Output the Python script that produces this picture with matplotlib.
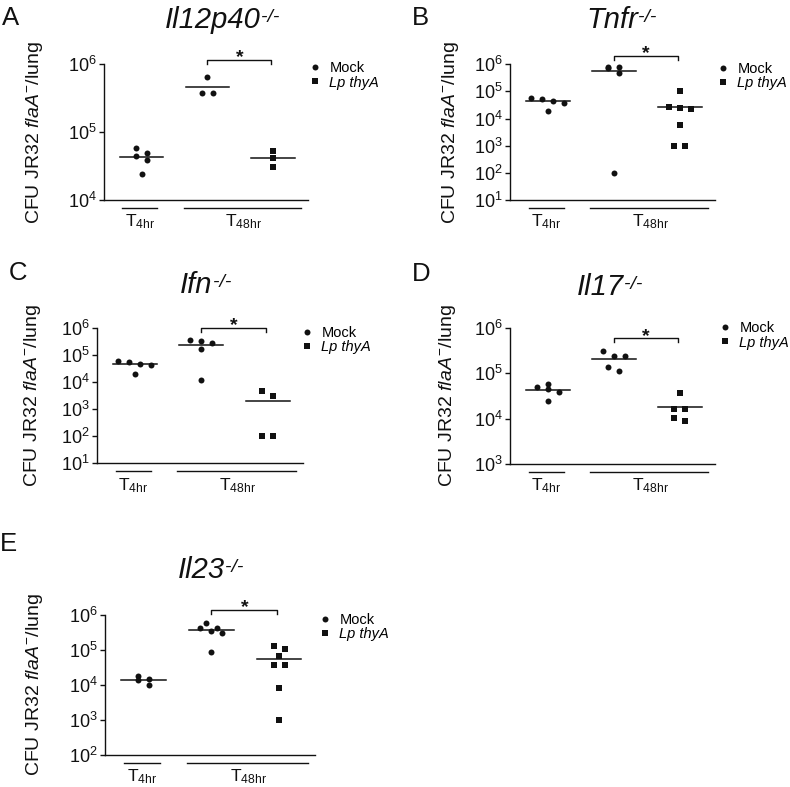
import numpy as np
import matplotlib
matplotlib.use('Agg')
import matplotlib.pyplot as plt
from matplotlib.lines import Line2D
from matplotlib.ticker import LogLocator, NullLocator

### Data: CFU JR32 flaA- per lung
a_mock_4hr = [5.9e4, 5.0e4, 4.45e4, 3.9e4, 2.4e4]
a_mock_48hr = [6.4e5, 3.8e5, 3.8e5]
a_thya_48hr = [5.2e4, 4.1e4, 3.1e4]

b_mock_4hr = [5.9e4, 5.3e4, 4.5e4, 3.9e4, 1.9e4]
b_mock_48hr = [8.2e5, 8.2e5, 7.1e5, 4.9e5, 1.0e2]
b_thya_48hr = [1.07e5, 2.6e4, 2.4e4, 2.2e4, 5.8e3, 1.0e3, 1.0e3]

c_mock_4hr = [5.97e4, 5.5e4, 4.6e4, 4.1e4, 2.0e4]
c_mock_48hr = [3.4e5, 3.24e5, 2.66e5, 1.65e5, 1.2e4]
c_thya_48hr = [4.8e3, 3.1e3, 1.0e2, 1.0e2]

d_mock_4hr = [5.9e4, 5.0e4, 4.4e4, 3.9e4, 2.45e4]
d_mock_48hr = [3.1e5, 2.4e5, 2.4e5, 1.38e5, 1.1e5]
d_thya_48hr = [3.7e4, 1.66e4, 1.66e4, 1.05e4, 8.7e3]

e_mock_4hr = [1.85e4, 1.45e4, 1.36e4, 9.8e3]
e_mock_48hr = [5.8e5, 4.33e5, 4.17e5, 3.5e5, 3.0e5, 8.6e4]
e_thya_48hr = [1.33e5, 1.07e5, 6.7e4, 3.73e4, 3.73e4, 8.0e3, 1.0e3]

letters = ['A', 'B', 'C', 'D', 'E']
genes = ['Il12p40', 'Tnfr', 'Ifn', 'Il17', 'Il23']
ylims = [(1e4, 1e6), (1e1, 1e6), (1e1, 1e6), (1e3, 1e6), (1e2, 1e6)]
legend_labels = ['Mock', 'Lp thyA']
time_labels = [r'$\mathregular{T_{4hr}}$', r'$\mathregular{T_{48hr}}$']
ylabel = r'CFU JR32 $\mathit{flaA}^{-}$/lung'

panel_data = [
    (a_mock_4hr, a_mock_48hr, a_thya_48hr),
    (b_mock_4hr, b_mock_48hr, b_thya_48hr),
    (c_mock_4hr, c_mock_48hr, c_thya_48hr),
    (d_mock_4hr, d_mock_48hr, d_thya_48hr),
    (e_mock_4hr, e_mock_48hr, e_thya_48hr),
]

### Layout (pixels in a 790x787 figure)
W, H = 790, 787
boxes = [(104, 64.3, 308, 200), (510, 64.3, 715, 200), (97, 327.7, 303, 463.3),
         (510, 327.7, 715, 464), (105, 615, 315, 755)]
letter_xy = [(2, 6), (412, 6), (9, 261), (412, 262), (0, 532)]
title_xy = [(165, 28), (586, 28), (180, 293), (577, 295), (178, 578)]
ylabel_x = [35, 450, 33, 447, 35]
legend_xy = [(315, 70), (723, 70.7), (307, 334.7), (725, 330), (325, 621.7)]
bracket_off = [4.3, 8.3, 0.0, -10.6, 5.0]

### Fonts
plt.rcParams['font.family'] = ['Liberation Sans', 'DejaVu Sans']
plt.rcParams['mathtext.fontset'] = 'custom'
plt.rcParams['mathtext.rm'] = 'Liberation Sans'
plt.rcParams['mathtext.it'] = 'Liberation Sans:italic'
plt.rcParams['mathtext.bf'] = 'Liberation Sans:bold'

ink = '#111111'
positions = [1, 2, 3]
markers = ['o', 'o', 's']
msizes = [4.3, 4.3, 3.8]


def swarm(ax, center, values, spacing=11.0, tol=5.2):
    """GraphPad-like column scatter: points close in y go into one centred row"""
    vals = np.sort(np.asarray(values, float))
    ypx = ax.transData.transform(np.column_stack([np.full(len(vals), center), vals]))[:, 1]
    rows, start = [], None
    for v, y in zip(vals, ypx):
        if start is None or y - start > tol:
            rows.append([])
            start = y
        rows[-1].append(v)
    px_unit = ax.transData.transform((1, 1))[0] - ax.transData.transform((0, 1))[0]
    xs, ys = [], []
    for row in rows:
        row = sorted(row, reverse=True)
        n = len(row)
        for i, v in enumerate(row):
            xs.append(center + (i - (n - 1) / 2.) * spacing / px_unit)
            ys.append(v)
    return np.array(xs), np.array(ys)


fig = plt.figure(figsize=(W / 100., H / 100.), dpi=100)

for k in range(5):
    l, t, r, b = boxes[k]
    ax = fig.add_axes([l / W, 1 - b / H, (r - l) / W, (b - t) / H])
    ax_h = b - t
    ax.set_yscale('log')
    ax.set_ylim(ylims[k])
    ax.set_xlim(0.43, 3.53)

    ### Scatter + mean lines
    for pos, vals, mk, ms in zip(positions, panel_data[k], markers, msizes):
        xs, ys = swarm(ax, pos, vals)
        ax.plot(xs, ys, ls='none', marker=mk, ms=ms, color=ink, mew=0,
                clip_on=False, zorder=4)
        ax.plot([pos - 0.33, pos + 0.33], [np.mean(vals)] * 2, color=ink,
                lw=1.1, clip_on=False, zorder=3)

    ### Axes style
    for side in ['top', 'right']:
        ax.spines[side].set_visible(False)
    for side in ['left', 'bottom']:
        ax.spines[side].set_linewidth(1.0)
        ax.spines[side].set_color(ink)
    ax.set_xticks([])
    ax.yaxis.set_major_locator(LogLocator(base=10, subs=(1.0,), numticks=20))
    ax.yaxis.set_minor_locator(NullLocator())
    ax.tick_params(axis='y', length=3.5, width=1.0, pad=1.5, labelsize=13,
                   colors=ink)

    ### Time group lines and labels under the axis
    xt = ax.get_xaxis_transform()
    ax.plot([0.71, 1.24], [-8 / ax_h] * 2, color=ink, lw=1.0, transform=xt,
            clip_on=False)
    ax.plot([1.64, 3.42], [-8 / ax_h] * 2, color=ink, lw=1.0, transform=xt,
            clip_on=False)
    ax.text(0.975, -26.7 / ax_h, time_labels[0], transform=xt, ha='center',
            va='baseline', fontsize=12.5, color=ink)
    ax.text(2.55, -26.7 / ax_h, time_labels[1], transform=xt, ha='center',
            va='baseline', fontsize=12.5, color=ink)

    ### Significance bracket
    yt = 1 + bracket_off[k] / ax_h
    yb = yt - 4.2 / ax_h
    ax.plot([2, 2, 2.97, 2.97], [yb, yt, yt, yb], color=ink, lw=1.0,
            transform=xt, clip_on=False)
    ax.text(2.49, yt - 2.5 / ax_h, '*', transform=xt, ha='center',
            va='baseline', fontsize=14, fontweight='bold', color=ink)

    ### Y label
    fig.text(ylabel_x[k] / W, 1 - (t + b) / 2. / H, ylabel, rotation=90,
             ha='center', va='center', fontsize=14, color=ink)

    ### Title with superscript
    tx, ty = title_xy[k]
    title = fig.text(tx / W, 1 - ty / H, genes[k], ha='left', va='baseline',
                     fontsize=21, fontstyle='italic', color=ink)
    ax.annotate('-/-', xy=(1.0, 1.0), xycoords=title, xytext=(0, -2.5),
                textcoords='offset points', ha='left', va='top', fontsize=14,
                fontstyle='italic', color=ink, annotation_clip=False)

    ### Panel letter
    lx, ly = letter_xy[k]
    fig.text(lx / W, 1 - ly / H, letters[k], ha='left', va='top',
             fontsize=18.5, color=ink)

    ### Legend
    mx, my = legend_xy[k]
    handles = [Line2D([], [], ls='none', marker=markers[0], ms=msizes[0],
                      color=ink, mew=0),
               Line2D([], [], ls='none', marker=markers[2], ms=msizes[2],
                      color=ink, mew=0)]
    leg = ax.legend(handles, legend_labels, loc='upper left',
                    bbox_to_anchor=((mx - 6) / W, 1 - (my - 8.5) / H),
                    bbox_transform=fig.transFigure, borderpad=0,
                    borderaxespad=0, handlelength=0.8, handletextpad=0.6,
                    labelspacing=0.0, frameon=False, fontsize=10.5)
    leg.get_texts()[1].set_fontstyle('italic')

plt.savefig('out.png', dpi=100)
